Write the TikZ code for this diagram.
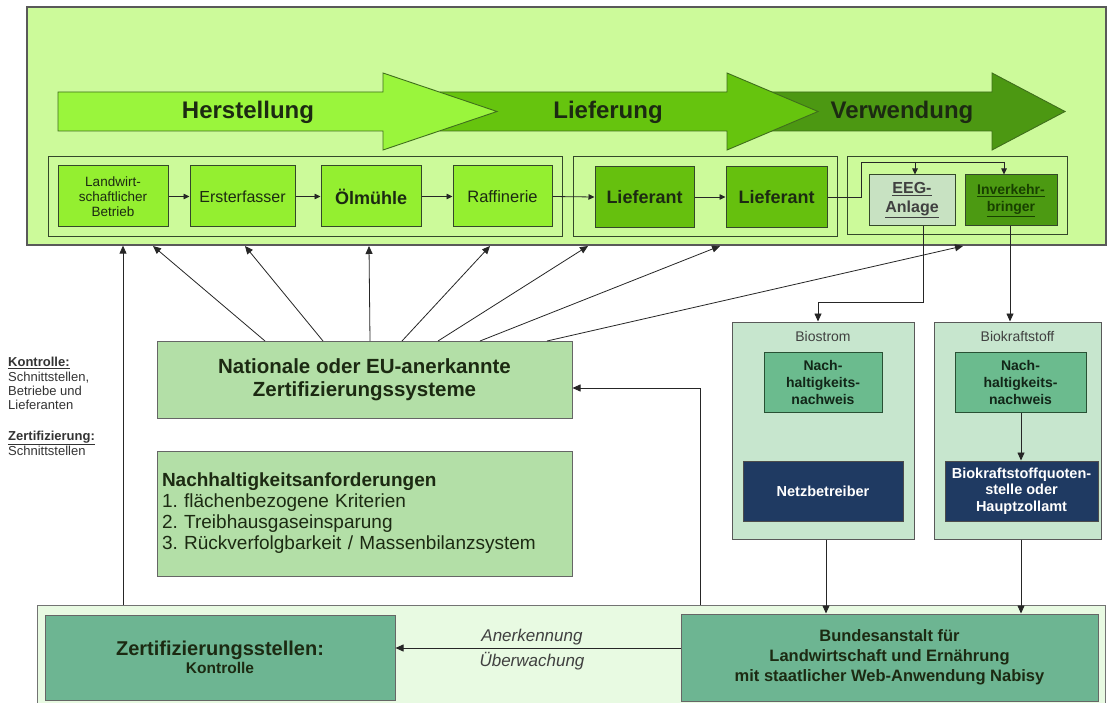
\documentclass[tikz,border=0pt]{standalone}
\usepackage{fontspec}
\setmainfont{Liberation Sans}
\usetikzlibrary{arrows.meta}
\frenchspacing
\definecolor{topbg}{HTML}{CCFA9A}
\definecolor{arrA}{HTML}{9AF53C}
\definecolor{arrB}{HTML}{66C40E}
\definecolor{arrC}{HTML}{4C9812}
\definecolor{rowA}{HTML}{94EF30}
\definecolor{rowB}{HTML}{66C00E}
\definecolor{eegc}{HTML}{C8E2C2}
\definecolor{invc}{HTML}{4C9A12}
\definecolor{natc}{HTML}{B3DFA7}
\definecolor{bioc}{HTML}{C7E6CE}
\definecolor{nwc}{HTML}{6BBB8E}
\definecolor{navy}{HTML}{1F3A62}
\definecolor{botbg}{HTML}{E8FAE2}
\definecolor{bbox}{HTML}{6DB592}
\definecolor{edge}{HTML}{34472A}
\definecolor{txt}{HTML}{1C2A12}
\definecolor{arrEdge}{HTML}{3F6E1C}
\newcommand{\fz}[2]{\fontsize{#1}{#2}\selectfont}
\tikzset{
  rect/.style={draw=edge, line width=1pt, inner sep=0pt, align=center, text=txt},
  conn/.style={draw=black!85, line width=0.8pt},
  arr/.style={conn, -{Triangle[length=8pt,width=7pt]}},
  sarr/.style={conn, -{Triangle[length=6pt,width=5.5pt]}},
  bigarrow/.style={draw=arrEdge, line width=0.9pt, line join=miter},
  bigtxt/.style={font={\fz{24}{28}\bfseries}, text=txt},
  lefttxt/.style={anchor=base west, font={\fz{13}{14}}, text=black!80, inner sep=0pt},
}
\begin{document}
\begin{tikzpicture}[x=1pt,y=-1pt]
\useasboundingbox (0,0) rectangle (1110,703);
\fill[white] (0,0) rectangle (1110,703);

% ---------- top container ----------
\node[rect, fill=topbg, draw=black!65, line width=1.3pt, minimum width=1079, minimum height=238] (topc) at (566.5,126) {};

% big process arrows (drawn back to front)
\filldraw[bigarrow, fill=arrC] (760,92) -- (992,92) -- (992,73) -- (1065,111.5) -- (992,150) -- (992,131) -- (760,131) -- cycle;
\filldraw[bigarrow, fill=arrB] (440,92) -- (727,92) -- (727,73) -- (818,111.5) -- (727,150) -- (727,131) -- (440,131) -- cycle;
\filldraw[bigarrow, fill=arrA] (58,92) -- (383,92) -- (383,73) -- (497,111.5) -- (383,150) -- (383,131) -- (58,131) -- cycle;
\node[bigtxt] (hst) at (248,112) {Herstellung};
\node[bigtxt] (lfg) at (608,112) {Lieferung};
\node[bigtxt] (vwd) at (902,112) {Verwendung};

% groups
\node[rect, fill=topbg, minimum width=514, minimum height=80] (g1) at (305,197) {};
\node[rect, fill=topbg, minimum width=264, minimum height=80] (g2) at (705,197) {};
\node[rect, fill=topbg, minimum width=220, minimum height=78] (g3) at (957,196) {};

% row boxes
\node[rect, fill=rowA, minimum width=110, minimum height=61, font={\fz{13.5}{15}}] (lw) at (113,196.5) {Landwirt-\\schaftlicher\\Betrieb};
\node[rect, fill=rowA, minimum width=105, minimum height=61, font={\fz{16}{18}}] (ef) at (242.5,196.5) {Ersterfasser};
\node[rect, fill=rowA, minimum width=100, minimum height=61, font={\fz{18}{20}\bfseries}] (om) at (371,196.5) {Ölmühle};
\node[rect, fill=rowA, minimum width=99, minimum height=61, font={\fz{16.5}{18}}] (rf) at (502.5,196.5) {Raffinerie};
\node[rect, fill=rowB, minimum width=99, minimum height=61, font={\fz{18}{20}\bfseries}] (l1) at (644.5,197) {Lieferant};
\node[rect, fill=rowB, minimum width=101, minimum height=61, font={\fz{18}{20}\bfseries}] (l2) at (776.5,197) {Lieferant};
\node[rect, fill=eegc, minimum width=86, minimum height=51, font={\fz{16}{19}\bfseries}, text=black!75] (eeg) at (912,200.5) {\underline{EEG-}\\\underline{Anlage}};
\node[rect, fill=invc, minimum width=92, minimum height=51, font={\fz{14}{17}\bfseries}, text={rgb,255:red,24;green,64;blue,0}] (iv) at (1011,200.5) {\underline{Inverkehr-}\\\underline{bringer}};

% row connectors
\draw[sarr] (lw) -- (ef);
\draw[sarr] (ef) -- (om);
\draw[sarr] (om) -- (rf);
\draw[sarr] (rf.east) -- (l1.west);
\draw[sarr] (l1) -- (l2);
\coordinate (b1) at (861,200);
\coordinate (b2) at (861,162);
\coordinate (b3) at (1004,162);
\coordinate (b4) at (915,162);
\draw[conn] (l2.east) -- (l2.east -| b1) -- (b2) -- (b3);
\draw[sarr] (b4) -- (b4 |- eeg.north);
\draw[sarr] (b3) -- (b3 |- iv.north);

% ---------- middle ----------
\node[rect, fill=natc, draw=black!60, minimum width=415, minimum height=77, font={\fz{20.5}{23}\bfseries}] (nat) at (364.5,379.5) {Nationale oder EU-anerkannte\\Zertifizierungssysteme};
\node[rect, fill=natc, draw=black!60, minimum width=415, minimum height=125, text width=405, inner xsep=5pt, align=left, font={\fz{19}{21}}] (nh) at (364.5,513.5) {\textbf{Nachhaltigkeitsanforderungen}\\1. flächenbezogene Kriterien\\2. Treibhausgaseinsparung\\3. Rückverfolgbarkeit / Massenbilanzsystem};

% arrows from certification systems to the chain
\foreach \i/\sx/\tx in {1/265/153, 2/323/245, 3/370/369, 4/402/490, 5/438/588, 6/480/720, 7/547/963}{
  \coordinate (s\i) at (\sx,341);
  \coordinate (t\i) at (\tx,246);
  \draw[arr] (s\i) -- (t\i);
}

% Biostrom / Biokraftstoff
\node[rect, fill=bioc, draw=black!65, minimum width=182, minimum height=217] (bs) at (823,430.5) {};
\node[rect, fill=bioc, draw=black!65, minimum width=167, minimum height=217] (bk) at (1017.5,430.5) {};
\node[font={\fz{14}{16}}, text=black!75] (bst) at (823,336) {Biostrom};
\node[font={\fz{14}{16}}, text=black!75] (bkt) at (1017.5,336) {Biokraftstoff};
\node[rect, fill=nwc, draw={rgb,255:red,40;green,80;blue,52}, minimum width=118, minimum height=60, font={\fz{14}{17}\bfseries}, text={rgb,255:red,18;green,38;blue,24}] (nw1) at (823,382) {Nach-\\haltigkeits-\\nachweis};
\node[rect, fill=nwc, draw={rgb,255:red,40;green,80;blue,52}, minimum width=131, minimum height=60, font={\fz{14}{17}\bfseries}, text={rgb,255:red,18;green,38;blue,24}] (nw2) at (1020.5,382) {Nach-\\haltigkeits-\\nachweis};
\node[rect, fill=navy, draw=black!70, minimum width=160, minimum height=60, font={\fz{14.5}{17}\bfseries}, text=white] (netz) at (823,491) {Netzbetreiber};
\node[rect, fill=navy, draw=black!70, minimum width=153, minimum height=60, font={\fz{14.5}{16.5}\bfseries}, text=white] (bkq) at (1021.5,491) {Biokraftstoffquoten-\\stelle oder\\Hauptzollamt};
\coordinate (q) at (1021,430);
\draw[arr] (nw2.south -| q) -- (q |- bkq.north);

% from EEG / Inverkehrbringer down
\coordinate (e1) at (923,302);
\coordinate (e2) at (818,302);
\draw[arr] (eeg.south -| e1) -- (e1) -- (e2) -- (e2 |- bs.north);
\coordinate (v1) at (1010,300);
\draw[arr] (iv.south -| v1) -- (v1 |- bk.north);

% ---------- bottom ----------
\node[rect, fill=botbg, draw=black!55, minimum width=1068, minimum height=102] (botc) at (571,656) {};
\node[rect, fill=bbox, draw=black!60, minimum width=350, minimum height=85] (zs) at (220,657.5) {{\fz{20}{22}\bfseries Zertifizierungsstellen:}\\[2pt]{\fz{15.5}{18}\bfseries Kontrolle}};
\node[rect, fill=bbox, draw=black!60, minimum width=417, minimum height=87, font={\fz{16.5}{20}\bfseries}] (ba) at (889.5,657.5) {Bundesanstalt für\\Landwirtschaft und Ernährung\\mit staatlicher Web-Anwendung Nabisy};

\coordinate (an) at (600,648);
\draw[arr] (ba.west |- an) -- (zs.east |- an);
\node[font={\fz{17}{20}\itshape}, text=black!75] (anl) at (532,637) {Anerkennung};
\node[font={\fz{17}{20}\itshape}, text=black!75] (uel) at (532,661) {Überwachung};

\coordinate (p1) at (826,560);
\draw[arr] (bs.south -| p1) -- (p1 |- ba.north);
\coordinate (p2) at (1021,560);
\draw[arr] (bk.south -| p2) -- (p2 |- ba.north);

% long connectors
\coordinate (lv) at (123,400);
\draw[arr] (botc.north -| lv) -- (lv |- topc.south);
\coordinate (rv) at (700,388);
\draw[arr] (botc.north -| rv) -- (rv) -- (rv -| nat.east);

% ---------- left legend ----------
\node[lefttxt] (k1) at (8,366.5) {\textbf{\underline{Kontrolle:}}};
\node[lefttxt] (k2) at (8,381) {Schnittstellen,};
\node[lefttxt] (k3) at (8,395) {Betriebe und};
\node[lefttxt] (k4) at (8,409) {Lieferanten};
\node[lefttxt] (z1) at (8,440) {\textbf{\underline{Zertifizierung:}}};
\node[lefttxt] (z2) at (8,455.5) {Schnittstellen};
\end{tikzpicture}
\end{document}
